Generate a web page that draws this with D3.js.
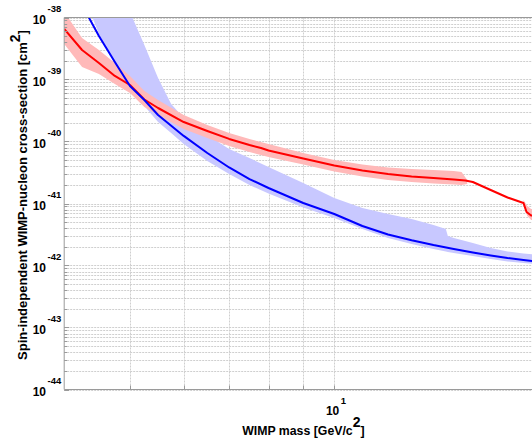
<!DOCTYPE html>
<html><head><meta charset="utf-8">
<script src="https://cdn.jsdelivr.net/npm/d3@7"></script>
<style>body{margin:0;background:#fff}svg{display:block}</style>
</head><body><svg id="c" width="532" height="445"></svg>
<script>
// ---- data (WIMP mass in GeV/c^2, cross-section in cm^2) ----
const redMass  = [4.0, 4.25, 4.5, 4.75, 5.0, 5.25, 5.5, 6.0, 6.5, 7.0, 7.5, 7.8, 8.0, 9.0, 10, 11, 12, 13, 14, 15, 15.6, 16, 17, 18, 19, 19.2, 19.5, 20];
const redLimit = [6.52e-39, 2.99e-39, 1.85e-39, 1.14e-39, 8.15e-40, 4.76e-40, 3.47e-40, 2.06e-40, 1.48e-40, 1.10e-40, 8.78e-41, 7.86e-41, 7.16e-41, 5.32e-41, 4.10e-41, 3.41e-41, 2.99e-41, 2.73e-41, 2.58e-41, 2.44e-41, 2.35e-41, 2.22e-41, 1.65e-41, 1.25e-41, 1.02e-41, 7.29e-42, 6.40e-42, 6.28e-42];

const redBandMass  = [4.0, 4.25, 4.5, 4.75, 5.0, 5.25, 5.5, 6.0, 6.5, 7.0, 7.5, 8.0, 9.0, 10, 11, 12, 13, 14, 15, 15.4, 15.7];
const redBandHigh  = [1.23e-38, 4.67e-39, 2.99e-39, 1.85e-39, 1.14e-39, 6.52e-40, 4.67e-40, 2.68e-40, 1.85e-40, 1.37e-40, 1.10e-40, 9.12e-41, 6.52e-41, 5.03e-41, 4.26e-41, 3.81e-41, 3.60e-41, 3.47e-41, 3.34e-41, 3.22e-41, 2.39e-41];
const redBandLow   = [3.74e-39, 1.59e-39, 1.23e-39, 8.46e-40, 6.06e-40, 3.60e-40, 2.68e-40, 1.59e-40, 1.14e-40, 8.46e-41, 6.77e-41, 5.62e-41, 4.26e-41, 3.28e-41, 2.73e-41, 2.39e-41, 2.22e-41, 2.10e-41, 2.03e-41, 1.99e-41, 2.06e-41];

const redBand2Mass = [19.0, 19.25, 19.5, 20];
const redBand2High = [1.14e-41, 9.11e-42, 8.15e-42, 7.86e-42];
const redBand2Low  = [9.11e-42, 6.28e-42, 5.42e-42, 5.22e-42];

const blueMass  = [4.25, 4.5, 4.75, 5.0, 5.25, 5.5, 6.0, 6.5, 7.0, 7.5, 8.0, 9.0, 10, 11, 12, 13, 14, 15, 16, 17, 18, 19, 20];
const blueLimit = [1.59e-38, 5.03e-39, 1.92e-39, 7.86e-40, 4.67e-40, 2.68e-40, 1.23e-40, 6.52e-41, 3.81e-41, 2.48e-41, 1.78e-41, 1.02e-41, 6.77e-42, 4.34e-42, 3.16e-42, 2.55e-42, 2.14e-42, 1.85e-42, 1.62e-42, 1.45e-42, 1.32e-42, 1.23e-42, 1.14e-42];

const blueBandMass = [4.4, 4.5, 4.75, 5.0, 5.25, 5.5, 5.75, 6.0, 6.5, 7.0, 7.5, 8.0, 9.0, 10, 11, 12, 13, 14, 14.6, 14.7, 15, 16, 17, 18, 19, 20];
const blueBandHigh = [3.0e-37, 1.5e-37, 4.0e-38, 1.23e-38, 3.60e-39, 1.06e-39, 4.03e-40, 2.39e-40, 1.27e-40, 7.57e-41, 5.42e-41, 3.88e-41, 2.14e-41, 1.23e-41, 8.46e-42, 6.77e-42, 5.62e-42, 4.50e-42, 3.88e-42, 2.99e-42, 2.78e-42, 2.31e-42, 1.92e-42, 1.68e-42, 1.56e-42, 1.48e-42];
const blueBandLow  = [1.02e-38, 5.42e-39, 1.92e-39, 6.77e-40, 3.74e-40, 2.06e-40, 1.37e-40, 9.12e-41, 4.85e-41, 2.99e-41, 1.99e-41, 1.45e-41, 8.62e-42, 5.84e-42, 3.88e-42, 2.78e-42, 2.22e-42, 1.85e-42, 1.68e-42, 1.65e-42, 1.59e-42, 1.42e-42, 1.27e-42, 1.16e-42, 1.10e-42, 1.04e-42];

const yTickExps = [-38, -39, -40, -41, -42, -43, -44];
const xTickMass = [10];
const xTickExps = ["1"];
const xLabel = "WIMP mass [GeV/c";
const yLabel = "Spin-independent WIMP-nucleon cross-section [cm";

// ---- layout ----
const L = 64.2, R = 538.6, T = 17.5, B = 389.5;
const svg = d3.select("#c");
const x = d3.scaleLog().domain([4, 20]).range([L, R]);
const y = d3.scaleLog().domain([1e-44, 1e-38]).range([B, T]);
const font = "'Liberation Sans', Arial, Helvetica, sans-serif";
const gridCol = "#cfcfcf", axisCol = "#9a9a9a";

svg.append("defs").append("clipPath").attr("id", "clip")
  .append("rect").attr("x", L).attr("y", T).attr("width", R - L).attr("height", B - T);

// grid
const g = svg.append("g");
const yGrid = y.ticks(60);
g.selectAll("line.hg").data(yGrid).join("line")
  .attr("x1", L).attr("x2", R).attr("y1", d => Math.round(y(d)) + 0.5).attr("y2", d => Math.round(y(d)) + 0.5)
  .attr("stroke", gridCol).attr("stroke-dasharray", "2,1").attr("stroke-width", 1);
const xGrid = x.ticks().filter(d => d > 4 && d <= 10);
g.selectAll("line.vg").data(xGrid).join("line")
  .attr("x1", d => Math.round(x(d)) + 0.5).attr("x2", d => Math.round(x(d)) + 0.5).attr("y1", T).attr("y2", B)
  .attr("stroke", gridCol).attr("stroke-dasharray", "2,1").attr("stroke-width", 1);

// bands & lines
const plot = svg.append("g").attr("clip-path", "url(#clip)");
function band(ms, hi, lo, fill) {
  const data = ms.map((m, i) => ({ m, hi: hi[i], lo: lo[i] }));
  plot.append("path").datum(data)
    .attr("d", d3.area().x(d => x(d.m)).y0(d => y(d.lo)).y1(d => y(d.hi)))
    .attr("fill", fill).attr("stroke", "none");
}
band(blueBandMass, blueBandHigh, blueBandLow, "#c8c8ff");
band(redBandMass, redBandHigh, redBandLow, "#ffb9b9");
band(redBand2Mass, redBand2High, redBand2Low, "#ffb9b9");

function line(ms, vs, col) {
  const data = ms.map((m, i) => ({ m, v: vs[i] }));
  plot.append("path").datum(data)
    .attr("d", d3.line().x(d => x(d.m)).y(d => y(d.v)))
    .attr("fill", "none").attr("stroke", col).attr("stroke-width", 2).attr("stroke-linejoin", "round");
}
line(redMass, redLimit, "#ff0000");
line(blueMass, blueLimit, "#0000ff");

// axes frame
const ax = svg.append("g").attr("stroke", axisCol).attr("stroke-width", 1);
ax.append("line").attr("x1", L).attr("x2", L).attr("y1", T).attr("y2", B);
ax.append("line").attr("x1", L).attr("x2", R).attr("y1", B).attr("y2", B);
ax.append("line").attr("x1", L).attr("x2", R).attr("y1", T).attr("y2", T);
ax.selectAll("line.yt").data(yGrid).join("line")
  .attr("x1", L).attr("x2", d => L + (Math.abs(Math.log10(d) - Math.round(Math.log10(d))) < 1e-6 ? 5 : 3))
  .attr("y1", d => Math.round(y(d)) + 0.5).attr("y2", d => Math.round(y(d)) + 0.5);
ax.selectAll("line.xt").data(xGrid).join("line")
  .attr("x1", d => Math.round(x(d)) + 0.5).attr("x2", d => Math.round(x(d)) + 0.5)
  .attr("y1", B).attr("y2", B - 4);

// tick labels
const yl = svg.append("g").attr("font-family", font).attr("font-weight", "bold").attr("fill", "#000");
yTickExps.forEach(e => {
  const yy = y(Math.pow(10, e));
  yl.append("text").attr("x", 46).attr("y", yy + 6.5).attr("text-anchor", "end").attr("font-size", 12).text("10");
  yl.append("text").attr("x", 47.5).attr("y", yy - 6).attr("font-size", 9.5).text(String(e));
});
xTickMass.forEach((m, i) => {
  const xx = x(m);
  yl.append("text").attr("x", xx + 5).attr("y", 415).attr("text-anchor", "end").attr("font-size", 12).text("10");
  yl.append("text").attr("x", xx + 6.5).attr("y", 404).attr("font-size", 9.5).text(xTickExps[i]);
});

// axis labels
const xt = yl.append("text").attr("x", (L + R) / 2 + 2).attr("y", 435).attr("text-anchor", "middle").attr("font-size", 12.3);
xt.append("tspan").text(xLabel);
xt.append("tspan").attr("dy", -8).attr("font-size", 14).text("2");
xt.append("tspan").attr("dy", 8).text("]");

const ytx = yl.append("text").attr("transform", `translate(27,195) rotate(-90)`)
  .attr("text-anchor", "middle").attr("font-size", 13);
ytx.append("tspan").text(yLabel);
ytx.append("tspan").attr("dy", -7).attr("font-size", 14).text("2");
ytx.append("tspan").attr("dy", 7).text("]");
</script></body></html>
